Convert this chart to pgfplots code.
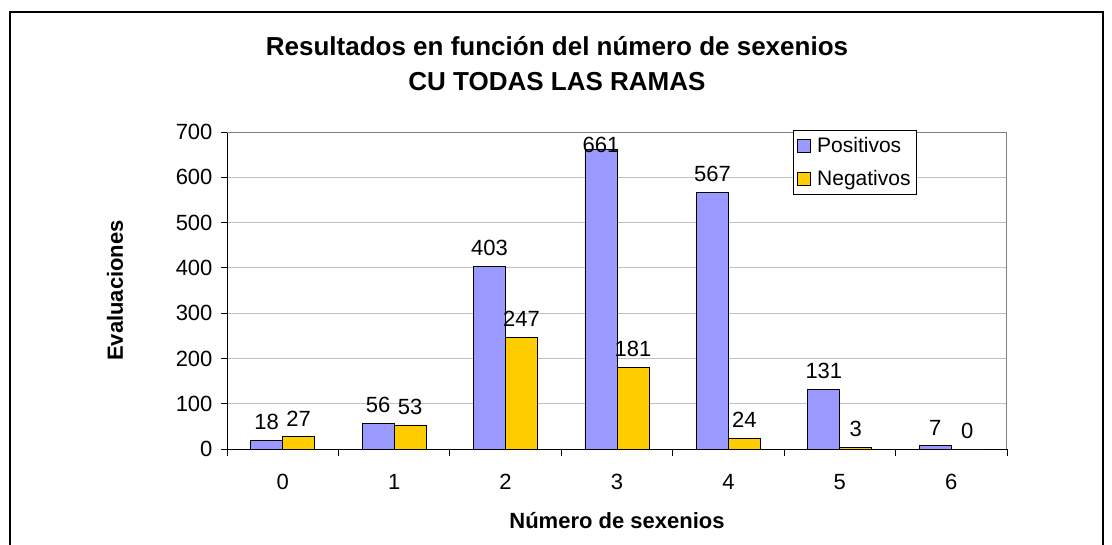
\documentclass[border=0pt]{standalone}
\usepackage{fontspec}
\setmainfont{Liberation Sans}
\usepackage{pgfplots}
\pgfplotsset{compat=1.18}
\definecolor{posblue}{RGB}{153,153,255}
\definecolor{negyellow}{RGB}{255,204,0}
\definecolor{gridgray}{RGB}{192,192,192}
\definecolor{framegray}{RGB}{128,128,128}

\begin{document}
\begin{tikzpicture}
\useasboundingbox (0pt,0pt) rectangle (1112pt,-545pt);
% outer chart frame
\draw[black, line width=1.2pt] (10pt,-545pt) -- (10pt,-12pt) -- (1103pt,-12pt) -- (1103pt,-545pt);
\node[font=\fontsize{26}{35}\selectfont\bfseries, align=center] at (557pt,-64pt)
  {Resultados en función del número de sexenios\\CU TODAS LAS RAMAS};
\begin{axis}[
  at={(227pt,-449pt)}, anchor=south west,
  scale only axis, width=780pt, height=317pt,
  ybar=0pt, bar width=32pt,
  xmin=-0.5, xmax=6.5, ymin=0, ymax=700,
  xtick={0,...,6}, major x tick style={draw=none},
  minor xtick={-0.5,0.5,...,6.5},
  ytick={0,100,...,700},
  tick align=outside, major tick length=6pt, minor tick length=7pt,
  axis x line*=bottom, axis y line*=left,
  axis line style={black, line width=1pt},
  every tick/.style={black, line width=0.8pt},
  ymajorgrids, grid style={gridgray, line width=0.8pt},
  /pgf/number format/assume math mode=true,
  tick label style={font=\fontsize{22}{26}\selectfont},
  xticklabel style={yshift=-16pt},
  yticklabel style={xshift=-5pt},
  xlabel={Número de sexenios}, ylabel={Evaluaciones},
  label style={font=\fontsize{22}{26}\selectfont\bfseries},
  xlabel style={at={(0.5,0)}, anchor=center, yshift=-72pt},
  ylabel style={at={(0,0.5)}, anchor=center, yshift=112pt},
  nodes near coords,
  visualization depends on={y \as \rawy},
  every node near coord/.append style={font=\fontsize{22}{26}\selectfont, black,
    yshift={\rawy>600 ? -7 : 7}},
  clip=false,
  legend style={at={(0.7256,1.006)}, anchor=north west, draw=black, line width=0.8pt,
    font=\fontsize{21}{25}\selectfont, inner xsep=4pt, inner ysep=5pt,
    row sep=12pt, /tikz/every odd column/.append style={column sep=4pt}},
  legend cell align=left,
  legend image code/.code={\draw[#1] (0pt,-6.5pt) rectangle (13pt,6.5pt);},
]
\draw[framegray, line width=1pt] (rel axis cs:0,1) -- (rel axis cs:1,1) -- (rel axis cs:1,0);
\addplot[fill=posblue, draw=black, line width=0.8pt]
  coordinates {(0,18) (1,56) (2,403) (3,661) (4,567) (5,131) (6,7)};
\addplot[fill=negyellow, draw=black, line width=0.8pt]
  coordinates {(0,27) (1,53) (2,247) (3,181) (4,24) (5,3) (6,0)};
\legend{Positivos, Negativos}
\end{axis}
\end{tikzpicture}
\end{document}
